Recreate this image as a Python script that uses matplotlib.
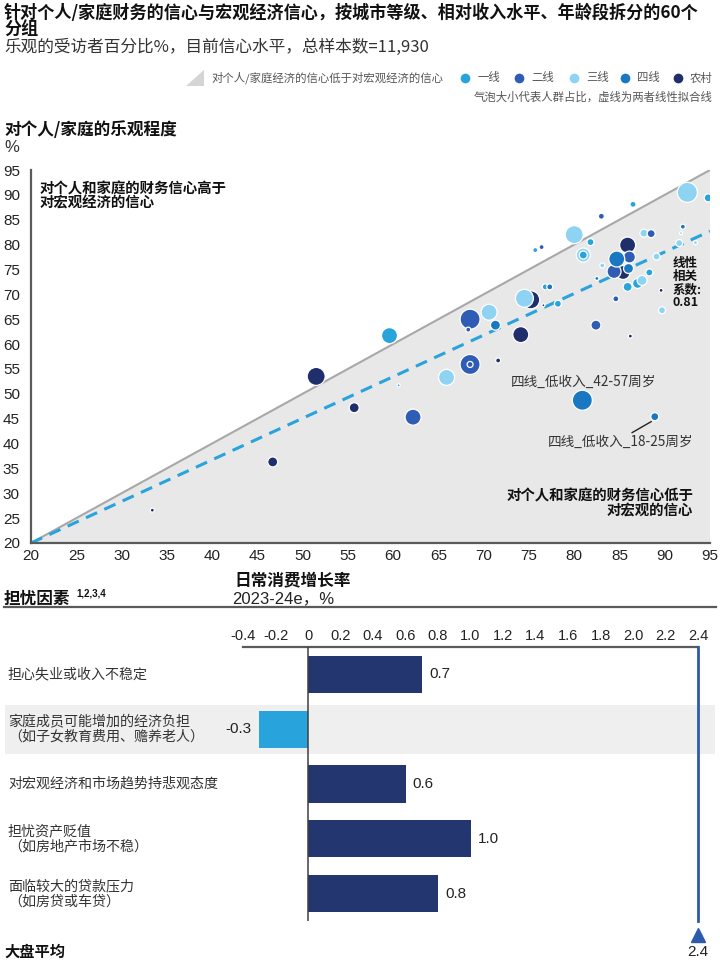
import matplotlib
matplotlib.use('Agg')
import matplotlib.pyplot as plt
from matplotlib.patches import Polygon, Rectangle
from matplotlib.lines import Line2D
import matplotlib.transforms as mtransforms

CJK = ['Noto Sans CJK SC', 'DejaVu Sans']
NUM = ['Liberation Sans', 'Noto Sans CJK SC', 'DejaVu Sans']
plt.rcParams['font.family'] = CJK

# ---------------- data ----------------
tier_names = ['一线', '二线', '三线', '四线', '农村']
tier_colors = ['#29A3DC', '#2F5DB5', '#8ED4F2', '#1A78C2', '#1F2F6B']

bub_x = [33.4, 46.7, 51.5, 55.7, 60.6, 62.2, 65.9, 68.5, 68.5, 71.6, 80.9, 88.9,
         59.6, 68.5, 68.3, 70.6, 71.3, 74.1, 75.2, 74.5, 76.6, 78.2, 76.8, 77.3,
         75.7, 76.4, 82.4, 86.2, 84.6, 89.7, 89.6, 85.9, 87.0, 87.5, 82.5, 85.4,
         84.4, 86.0, 83.1, 88.3, 89.1, 85.9, 86.1, 84.7, 81.0, 81.0, 81.8, 80.0,
         83.0, 86.5, 87.7, 88.5, 91.6, 93.4, 91.8, 92.0, 92.5, 94.8]
bub_y = [26.6, 36.3, 53.5, 47.2, 51.7, 45.3, 53.3, 55.9, 55.9, 56.7, 48.7, 45.4,
         61.7, 65.0, 62.9, 66.4, 63.8, 61.9, 68.9, 69.2, 67.8, 68.1, 71.5, 71.5,
         78.9, 79.5, 63.8, 61.6, 69.1, 66.8, 70.8, 71.5, 72.2, 72.8, 73.2, 74.4,
         74.6, 75.2, 75.8, 74.4, 77.6, 79.9, 77.5, 77.1, 77.9, 77.9, 80.5, 82.0,
         85.7, 88.1, 82.3, 82.2, 80.3, 80.4, 82.3, 83.6, 90.5, 89.4]
bub_share = [2, 5, 9, 5, 1.5, 8, 8, 10, 3, 2.5, 10, 4,
             8, 10, 2.5, 8, 5, 8, 9, 9, 1.5, 3.5, 3, 3,
             2.5, 2.5, 5, 2, 3, 3.5, 2, 4.5, 5, 5, 2, 7,
             7, 5, 2.5, 3.5, 3.5, 8, 6, 8, 7, 4, 3.5, 9,
             3, 3, 4, 4, 3.5, 2, 1.5, 2.5, 10, 4]
bub_tier = [4, 4, 4, 4, 0, 1, 2, 1, 1, 4, 3, 3,
            0, 1, 1, 2, 3, 4, 4, 2, 4, 0, 0, 3,
            0, 1, 1, 4, 1, 2, 4, 0, 0, 2, 3, 4,
            1, 3, 2, 0, 2, 4, 1, 3, 2, 0, 0, 2,
            1, 0, 2, 1, 2, 2, 2, 3, 2, 0]

fit_x = [20, 95]
fit_y = [20, 82.7]
corr_value = 0.81
axis_ticks = [20, 25, 30, 35, 40, 45, 50, 55, 60, 65, 70, 75, 80, 85, 90, 95]

concern_labels = ['担心失业或收入不稳定',
                  '家庭成员可能增加的经济负担\n（如子女教育费用、赡养老人）',
                  '对宏观经济和市场趋势持悲观态度',
                  '担忧资产贬值\n（如房地产市场不稳）',
                  '面临较大的贷款压力\n（如房贷或车贷）']
concern_values = [0.7, -0.3, 0.6, 1.0, 0.8]
market_avg = 2.4
bar_ticks = [-0.4, -0.2, 0, 0.2, 0.4, 0.6, 0.8, 1.0, 1.2, 1.4, 1.6, 1.8, 2.0, 2.2, 2.4]
bar_tick_labels = ['-0.4', '-0.2', '0', '0.2', '0.4', '0.6', '0.8', '1.0', '1.2',
                   '1.4', '1.6', '1.8', '2.0', '2.2', '2.4']

# ---------------- figure ----------------
W, H = 720, 960
fig = plt.figure(figsize=(7.2, 9.6), dpi=100)
fig.patch.set_facecolor('white')


def fx(p):
    return p / W


def fy(p):
    return 1 - p / H


# titles
fig.text(fx(4), fy(13), '针对个人/家庭财务的信心与宏观经济信心，按城市等级、相对收入水平、年龄段拆分的60个',
         fontsize=12.3, fontweight='bold', color='#111111', va='center', ha='left')
fig.text(fx(4), fy(30), '分组', fontsize=12.3, fontweight='bold', color='#111111',
         va='center', ha='left')
fig.text(fx(4), fy(47), '乐观的受访者百分比%，目前信心水平，总样本数=11,930', fontsize=12,
         color='#333333', va='center', ha='left')

# legend
tri = Polygon([[fx(186), fy(86)], [fx(204), fy(70)], [fx(204), fy(86)]], closed=True,
              transform=fig.transFigure, facecolor='#D5D5D5', edgecolor='none')
fig.add_artist(tri)
fig.text(fx(211), fy(78), '对个人/家庭经济的信心低于对宏观经济的信心', fontsize=8.2,
         color='#555555', va='center', ha='left')
leg_cx = [465, 519, 574, 625, 678]
for i, name in enumerate(tier_names):
    fig.add_artist(Line2D([fx(leg_cx[i])], [fy(78)], marker='o', markersize=8,
                          markerfacecolor=tier_colors[i], markeredgecolor='white',
                          linestyle='none', transform=fig.transFigure))
    fig.text(fx(leg_cx[i] + 12), fy(78), name, fontsize=8.2, color='#555555',
             va='center', ha='left')
fig.text(fx(713), fy(97), '气泡大小代表人群占比，虚线为两者线性拟合线', fontsize=8.2,
         color='#555555', va='center', ha='right')

fig.text(fx(4), fy(130), '对个人/家庭的乐观程度', fontsize=12, fontweight='bold',
         color='#111111', va='center', ha='left')
fig.text(fx(4), fy(148), '%', fontsize=12, color='#333333', va='center', ha='left',
         family=NUM)

# ---------------- scatter ----------------
ax = fig.add_axes([fx(31), fy(543), fx(710) - fx(31), fy(170) - fy(543)])
ax.set_xlim(20, 95)
ax.set_ylim(20, 95)
ax.fill([20, 95, 95], [20, 95, 20], color='#E8E8E8', zorder=0, lw=0)
ax.plot([20, 95], [20, 95], color='#A8A8A8', lw=1.5, zorder=1)
ax.plot(fit_x, fit_y, color='#29A3DC', lw=2.2, linestyle=(0, (4, 2.6)), zorder=2)
ax.scatter(bub_x, bub_y, s=[(1.44 * r) ** 2 for r in bub_share],
           c=[tier_colors[t] for t in bub_tier], edgecolors='white', linewidths=0.9,
           zorder=3)

for s in ['top', 'right']:
    ax.spines[s].set_visible(False)
for s in ['left', 'bottom']:
    ax.spines[s].set_color('#5A5A5A')
    ax.spines[s].set_linewidth(1.6)
ax.set_xticks(axis_ticks)
ax.set_yticks(axis_ticks)
ax.tick_params(length=0, labelsize=11, colors='#222222')
ax.tick_params(axis='y', pad=8)
ax.tick_params(axis='x', pad=4)
for lab in ax.get_xticklabels() + ax.get_yticklabels():
    lab.set_family(NUM)

ax.text(0.012, 0.967, '对个人和家庭的财务信心高于\n对宏观经济的信心', transform=ax.transAxes,
        fontsize=10.4, fontweight='bold', va='top', ha='left', linespacing=1.0,
        color='#111111')
ax.text(0.975, 0.105, '对个人和家庭的财务信心低于\n对宏观的信心', transform=ax.transAxes,
        fontsize=10.4, fontweight='bold', va='center', ha='right', linespacing=1.0,
        color='#111111')
ax.text(90.9, 72.2, '线性\n相关\n系数:\n' + f'{corr_value:.2f}', fontsize=9,
        fontweight='bold', va='center', ha='left', linespacing=1.0, color='#111111')
ax.text(81.0, 52.4, '四线_低收入_42-57周岁', fontsize=9.8, color='#333333',
        va='center', ha='center')
ax.text(85.1, 40.3, '四线_低收入_18-25周岁', fontsize=9.8, color='#333333',
        va='center', ha='center')
ax.plot([86.4, 88.5], [42.2, 44.4], color='#222222', lw=1, zorder=2)

fig.text(fx(293), fy(580), '日常消费增长率', fontsize=12, fontweight='bold',
         color='#111111', va='center', ha='center')
fig.text(fx(232), fy(599), '2023-24e，%', fontsize=12, color='#222222', va='center',
         ha='left', family=NUM)
fig.text(fx(4), fy(599), '担忧因素', fontsize=12, fontweight='bold',
         color='#111111', va='center', ha='left')
fig.text(fx(76), fy(594), '1,2,3,4', fontsize=7, color='#111111', va='center',
         ha='left', family=NUM, fontweight='bold')
fig.add_artist(Line2D([fx(4), fx(716)], [fy(607), fy(607)], color='#5A5A5A', lw=1.6,
                      transform=fig.transFigure))

# ---------------- bars ----------------
ax2 = fig.add_axes([fx(243), fy(921), fx(698) - fx(243), fy(647) - fy(921)])
ax2.set_xlim(-0.4, 2.4)
ax2.set_ylim(4.5, -0.5)
ypos = list(range(len(concern_values)))
bar_cols = ['#29A3DC' if v < 0 else '#24366F' for v in concern_values]
ax2.barh(ypos, concern_values, height=0.68, color=bar_cols, zorder=3)
ax2.axvline(0, color='#404040', lw=1.1, zorder=4)
ax2.axvline(market_avg, color='#2E5AAC', lw=2, zorder=4, clip_on=False)

blend = mtransforms.blended_transform_factory(fig.transFigure, ax2.transData)
band = Rectangle((fx(5), 0.56), fx(715) - fx(5), 0.89, transform=blend,
                 facecolor='#EFEFEF', edgecolor='none', zorder=0, clip_on=False)
ax2.add_artist(band)

for y, v in zip(ypos, concern_values):
    if v >= 0:
        ax2.text(v + 0.045, y, f'{v:.1f}', va='center', ha='left', fontsize=11,
                 color='#222222', family=NUM)
    else:
        ax2.text(v - 0.045, y, f'{v:.1f}', va='center', ha='right', fontsize=11,
                 color='#222222', family=NUM)

for y, lab in zip(ypos, concern_labels):
    ax2.text(fx(8), y, lab, transform=blend, va='center', ha='left', fontsize=10.1,
             color='#333333', linespacing=1.1, clip_on=False)

ax2.xaxis.tick_top()
ax2.set_xticks(bar_ticks)
ax2.set_xticklabels(bar_tick_labels)
ax2.set_yticks([])
ax2.tick_params(axis='x', length=0, labelsize=10.5, colors='#222222', pad=3)
for lab in ax2.get_xticklabels():
    lab.set_family(NUM)
for s in ['bottom', 'left', 'right']:
    ax2.spines[s].set_visible(False)
ax2.spines['top'].set_color('#5A5A5A')
ax2.spines['top'].set_linewidth(1.6)
ax2.patch.set_alpha(0)

# market average marker
ax2.plot([market_avg], [4.5 + 14 / 54.8], marker='^', markersize=10, color='#2E5AAC',
         clip_on=False, zorder=5)
ax2.text(market_avg, 4.5 + 31 / 54.8, f'{market_avg:.1f}', ha='center', va='center',
         fontsize=11, color='#222222', family=NUM, clip_on=False)
fig.text(fx(4), fy(952), '大盘平均', fontsize=11, fontweight='bold', color='#111111',
         va='center', ha='left')

fig.savefig('out.png', dpi=100, facecolor='white')
